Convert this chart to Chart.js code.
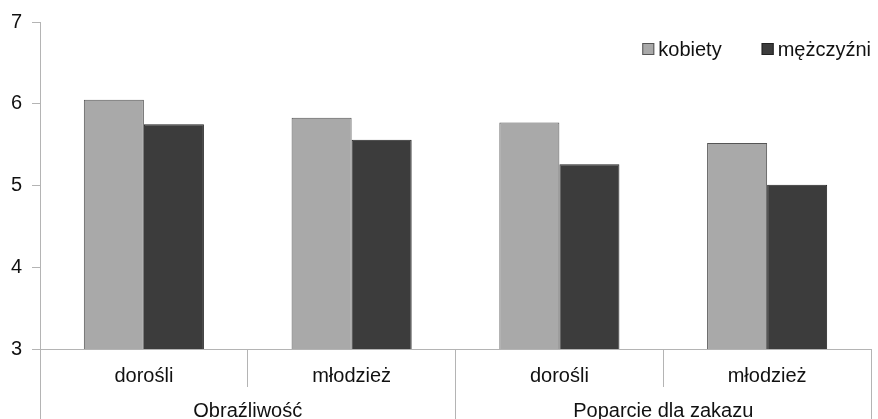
<!DOCTYPE html>
<html>
<head>
<meta charset="utf-8">
<script src="https://cdn.jsdelivr.net/npm/chart.js@4.4.0/dist/chart.umd.min.js"></script>
<style>
  html, body { margin: 0; padding: 0; background: #fff; overflow: hidden; }
  #wrap { width: 878px; height: 419px; position: relative; }
</style>
</head>
<body>
<div id="wrap"><canvas id="chart"></canvas></div>
<script>
// data
const subLabels = ['dorośli', 'młodzież', 'dorośli', 'młodzież'];
const groupLabels = ['Obraźliwość', 'Poparcie dla zakazu'];
const seriesNames = ['kobiety', 'mężczyźni'];
const kobiety = [6.05, 5.83, 5.77, 5.52];
const mezczyzni = [5.75, 5.56, 5.26, 5.01];

const FONT = { family: '"Liberation Sans", Arial, sans-serif', size: 20 };
const GRID = '#b4b4b4';
const TEXT = '#111';

// legend drawn inside the plot area, top right
const innerLegend = {
  id: 'innerLegend',
  afterDraw(chart) {
    const ctx = chart.ctx;
    const area = chart.chartArea;
    ctx.save();
    ctx.font = FONT.size + 'px ' + FONT.family;
    ctx.textBaseline = 'middle';
    const y = 49;
    let x = area.right;
    const items = chart.data.datasets.slice().reverse();
    items.forEach(ds => {
      const w = ctx.measureText(ds.label).width;
      x -= w;
      ctx.fillStyle = TEXT;
      ctx.fillText(ds.label, x, y + 1);
      x -= 16;
      ctx.fillStyle = ds.backgroundColor;
      ctx.fillRect(x, y - 6, 12, 12);
      ctx.strokeStyle = ds.borderColor;
      ctx.lineWidth = 1;
      ctx.strokeRect(x + 0.5, y - 5.5, 11, 11);
      x -= 40;
    });
    ctx.restore();
  }
};

new Chart(document.getElementById('chart'), {
  type: 'bar',
  data: {
    labels: subLabels,
    datasets: [
      {
        label: seriesNames[0],
        data: kobiety,
        backgroundColor: '#a9a9a9',
        borderColor: '#555555',
        borderWidth: 1,
        barPercentage: 1,
        categoryPercentage: 0.578
      },
      {
        label: seriesNames[1],
        data: mezczyzni,
        backgroundColor: '#3c3c3c',
        borderColor: '#222222',
        borderWidth: 1,
        barPercentage: 1,
        categoryPercentage: 0.578
      }
    ]
  },
  options: {
    responsive: true,
    maintainAspectRatio: false,
    animation: false,
    layout: { padding: { top: 20, right: 7, left: 0, bottom: 0 } },
    plugins: {
      legend: { display: false },
      tooltip: { enabled: false }
    },
    scales: {
      x: {
        weight: 0,
        offset: true,
        grid: {
          offset: true,
          drawOnChartArea: false,
          color: GRID,
          tickLength: 38
        },
        border: { display: true, color: GRID, width: 1 },
        ticks: { font: FONT, color: TEXT, padding: -23, maxRotation: 0 },
        afterFit: s => { s.height = 38; }
      },
      x2: {
        type: 'category',
        position: 'bottom',
        weight: 1,
        labels: groupLabels,
        offset: true,
        grid: {
          offset: true,
          drawOnChartArea: false,
          color: GRID,
          tickLength: 40
        },
        border: { display: false },
        ticks: { font: FONT, color: TEXT, padding: -28, maxRotation: 0 },
        afterFit: s => { s.height = 32; }
      },
      y: {
        min: 3,
        max: 7,
        ticks: { stepSize: 1, font: FONT, color: TEXT, padding: 10 },
        grid: { drawOnChartArea: false, color: GRID, tickLength: 8 },
        border: { display: true, color: GRID, width: 1 },
        afterFit: s => { s.width = 40; }
      }
    }
  },
  plugins: [innerLegend]
});
</script>
</body>
</html>
